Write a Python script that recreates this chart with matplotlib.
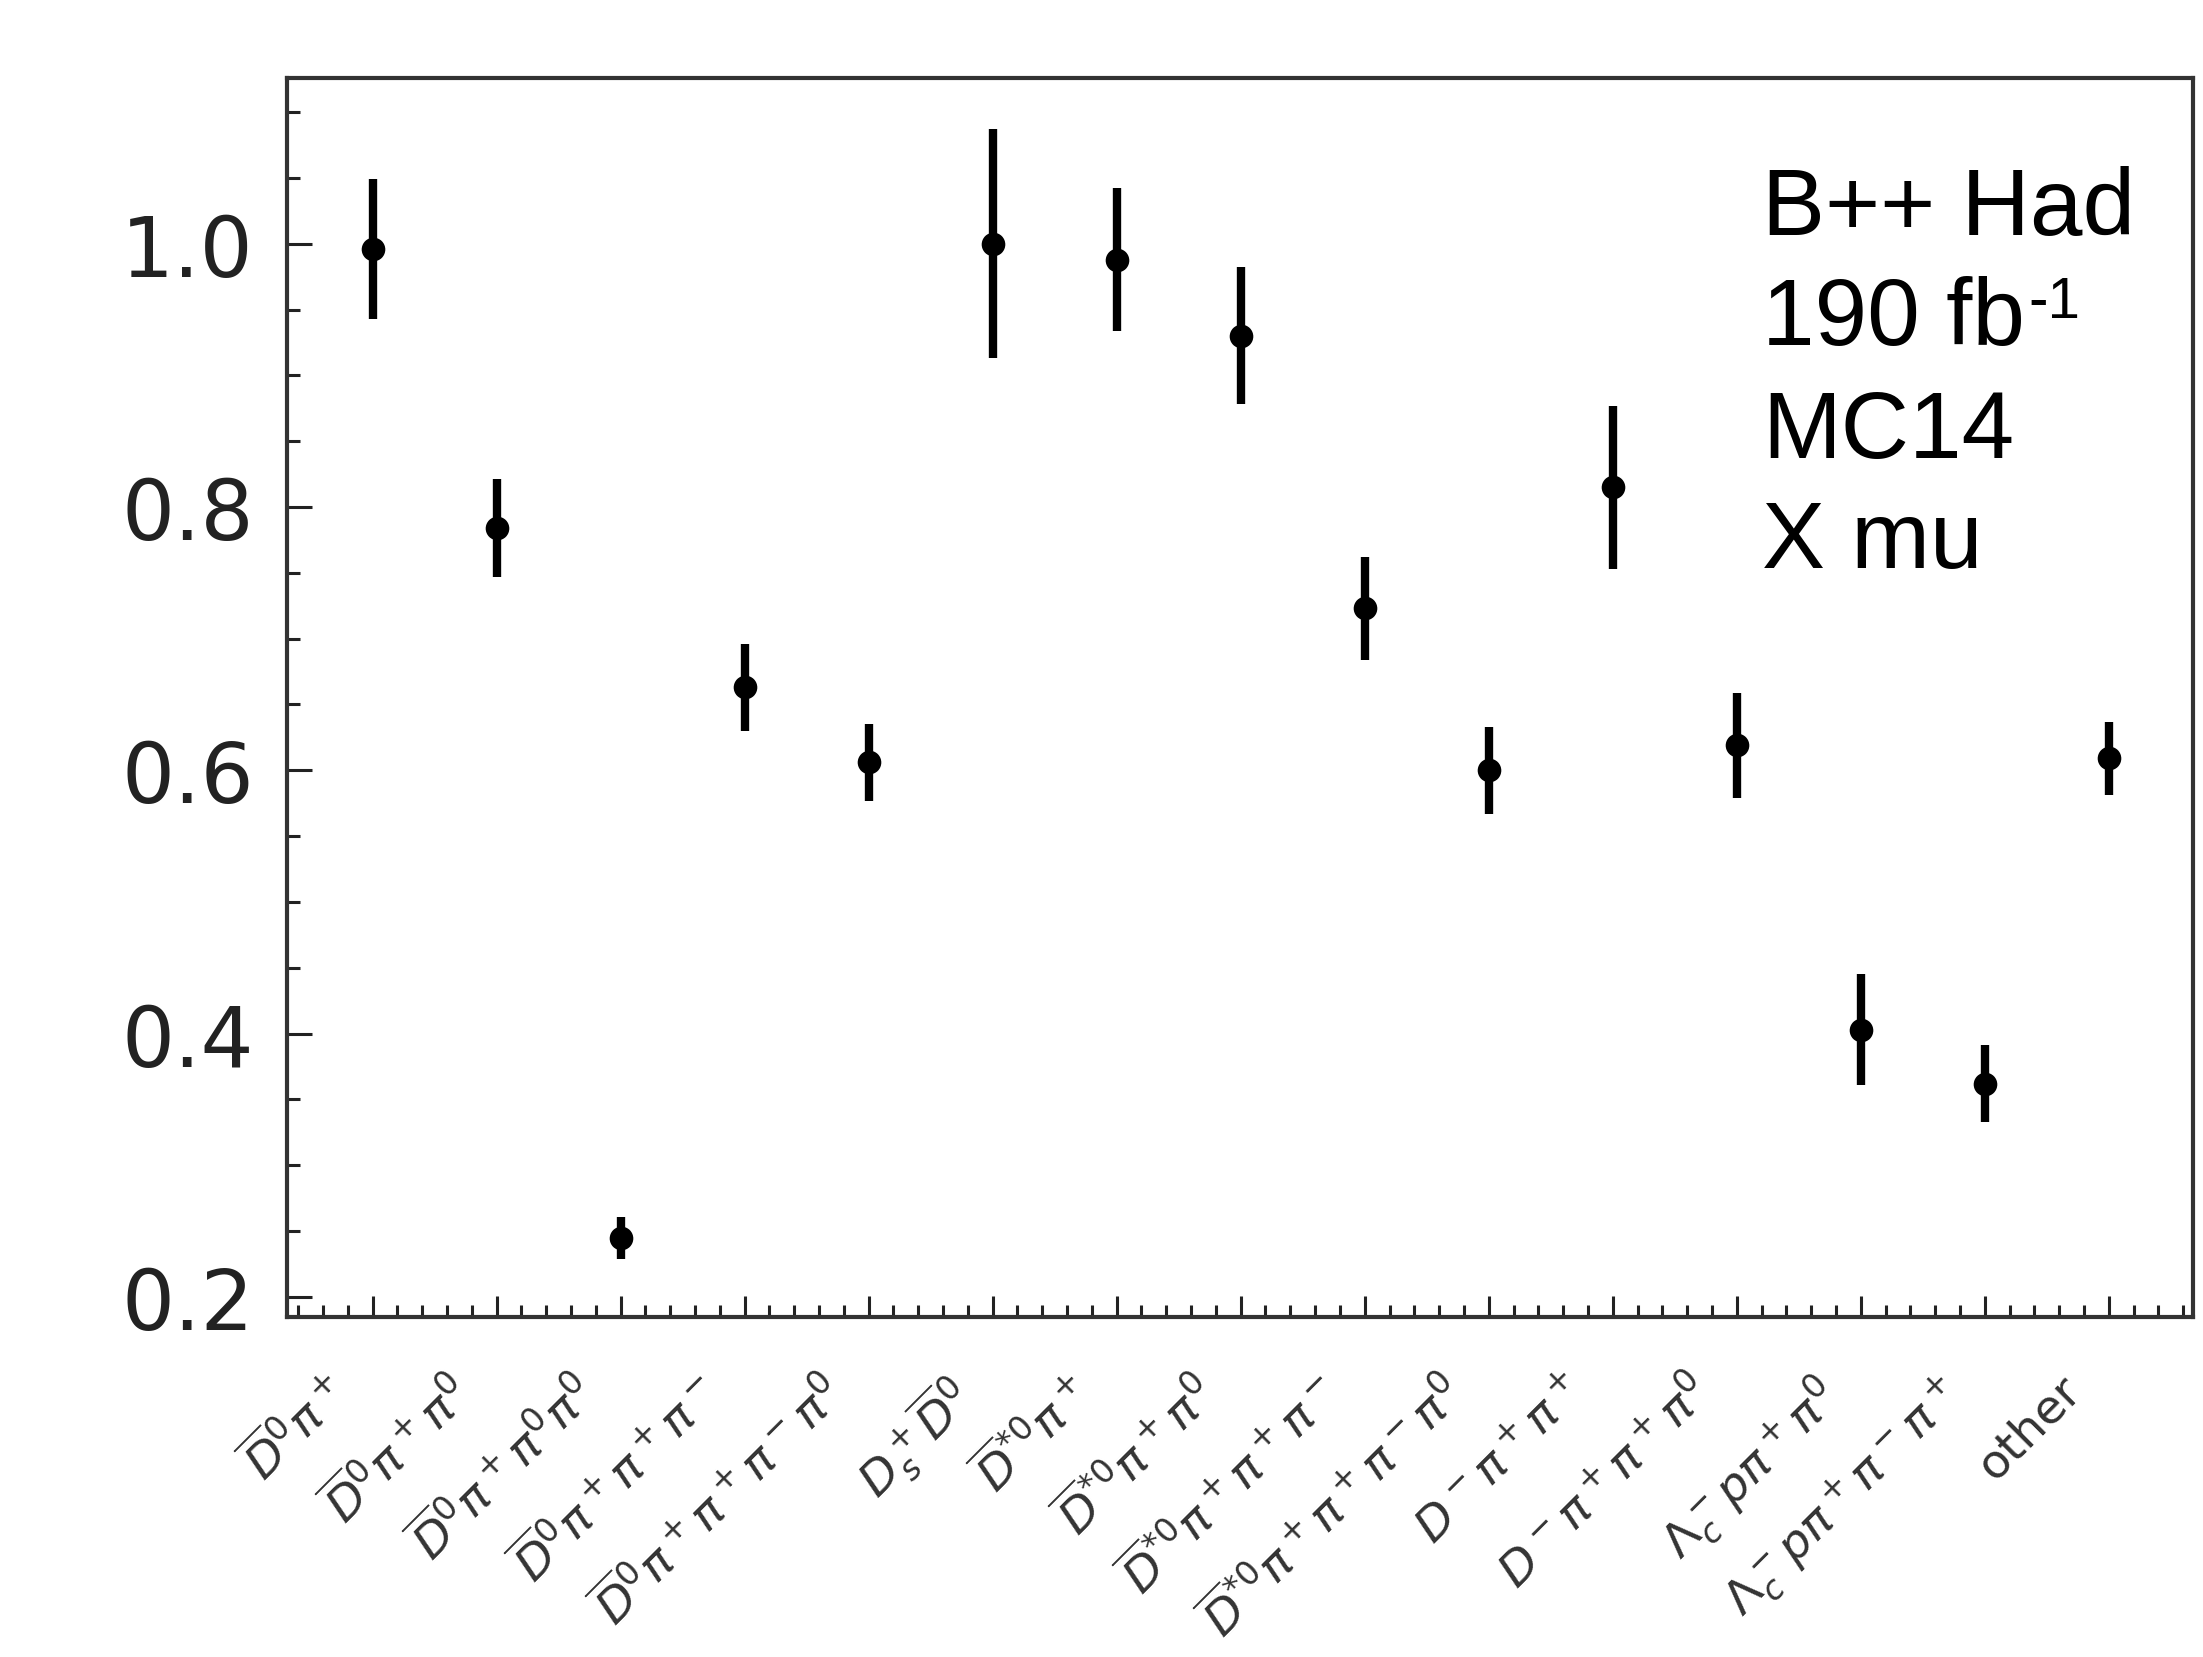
import matplotlib
matplotlib.use("Agg")
import matplotlib.pyplot as plt
import matplotlib.transforms as mtransforms
from matplotlib.ticker import MultipleLocator
import numpy as np

categories = [
    r"$\overline{D}^0\pi^+$",
    r"$\overline{D}^0\pi^+\pi^0$",
    r"$\overline{D}^0\pi^+\pi^0\pi^0$",
    r"$\overline{D}^0\pi^+\pi^+\pi^-$",
    r"$\overline{D}^0\pi^+\pi^+\pi^-\pi^0$",
    r"$D_s^+\overline{D}^0$",
    r"$\overline{D}^{*0}\pi^+$",
    r"$\overline{D}^{*0}\pi^+\pi^0$",
    r"$\overline{D}^{*0}\pi^+\pi^+\pi^-$",
    r"$\overline{D}^{*0}\pi^+\pi^+\pi^-\pi^0$",
    r"$D^-\pi^+\pi^+$",
    r"$D^-\pi^+\pi^+\pi^0$",
    r"$\Lambda_c^- p\pi^+\pi^0$",
    r"$\Lambda_c^- p\pi^+\pi^-\pi^+$",
    "other",
]
values = [0.996, 0.784, 0.245, 0.663, 0.606, 1.000, 0.988, 0.930, 0.723, 0.600,
          0.815, 0.619, 0.403, 0.362, 0.609]
errors = [0.053, 0.037, 0.016, 0.033, 0.029, 0.087, 0.054, 0.052, 0.039, 0.033,
          0.062, 0.040, 0.042, 0.029, 0.028]
yticks = [0.2, 0.4, 0.6, 0.8, 1.0]
info_lines = ["B++ Had", "190 fb", "MC14", "X mu"]

DPI = 200
fig = plt.figure(figsize=(2203 / DPI, 1658 / DPI), dpi=DPI)
ax = fig.add_axes([0.1303, 0.2051, 0.8652, 0.7473])

x = np.arange(len(categories))
ax.errorbar(x, values, yerr=errors, fmt="o", color="black", ms=7.5,
            elinewidth=3.0, capsize=0, zorder=3)

ax.set_xlim(-0.69, len(categories) - 1 + 0.68)
ax.set_ylim(0.1847, 1.126)

ax.set_yticks(yticks)
ax.set_yticklabels([f"{t:.1f}" for t in yticks])
ax.yaxis.set_minor_locator(MultipleLocator(0.05))
ax.set_xticks(x)
ax.xaxis.set_minor_locator(MultipleLocator(0.2))

ax.tick_params(axis="both", which="both", direction="in", top=False, right=False,
               color="#222222")
ax.tick_params(axis="y", which="major", length=9, width=1.1, labelsize=30,
               pad=12, labelcolor="#222222")
ax.tick_params(axis="y", which="minor", length=4.7, width=1.1)
ax.tick_params(axis="x", which="major", length=7.5, width=1.1, labelsize=17,
               pad=18, labelcolor="#333333")
ax.tick_params(axis="x", which="minor", length=4.5, width=1.1)

ax.set_xticklabels(categories, rotation=45, ha="right", va="top",
                   rotation_mode="anchor")
shift = mtransforms.ScaledTranslation(-50 / DPI, 0, fig.dpi_scale_trans)
for lab in ax.get_xticklabels():
    lab.set_transform(lab.get_transform() + shift)

for s in ax.spines.values():
    s.set_linewidth(1.5)
    s.set_color("#333333")

ys = [0.874, 0.785, 0.694, 0.605]
for line, yy in zip(info_lines, ys):
    t = ax.text(0.774, yy, line, transform=ax.transAxes, fontsize=34,
                family="Liberation Sans", va="baseline", ha="left", color="black")
    if line == "190 fb":
        ax.annotate("-1", xy=(1.0, 1.0), xycoords=t, xytext=(1, 0),
                    textcoords="offset points", fontsize=21,
                    family="Liberation Sans", va="top", ha="left")

fig.savefig("out.png", dpi=DPI, facecolor="white")
